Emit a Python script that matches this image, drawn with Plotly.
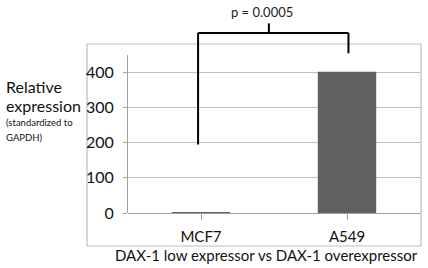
import plotly.graph_objects as go

# ---- data ----
categories = ["MCF7", "A549"]
values = [2, 402]
y_ticks = [0, 100, 200, 300, 400]
y_max = 450
p_label = "p = 0.0005"
bracket_top = 513
bracket_left_end = 195
bracket_right_end = 455
bracket_tick_top = 540
bracket_label_y = 572

x_title = "DAX-1 low expressor vs DAX-1 overexpressor"
y_title_lines = ["Relative", "expression"]
y_sub_lines = ["(standardized to", "GAPDH)"]

W, H = 428, 268
L, R, T, B = 128, 8, 55, 55
PW, PH = W - L - R, H - T - B


def px(x):
    return (x - L) / PW


def py(y):
    return (H - B - y) / PH


def vy(v):
    # data value -> paper fraction (linear y axis from 0 to y_max)
    return v / y_max


FONT = "Lato, 'Open Sans', sans-serif"
fig = go.Figure()
fig.add_trace(go.Bar(
    x=[0, 1], y=values, width=0.4,
    marker=dict(color="#606060", line=dict(width=0)),
    hoverinfo="skip",
))

shapes = []
# chart border
shapes.append(dict(type="rect", xref="paper", yref="paper",
                   x0=px(87), x1=px(421), y0=py(246), y1=py(44),
                   line=dict(color="#bdbdbd", width=1.2), layer="below"))
# bracket
blk = dict(color="black", width=2)
xl, xr, xm = -0.02, 1.01, 0.465
shapes += [
    dict(type="line", xref="x", yref="paper", x0=xl, x1=xl, y0=vy(bracket_left_end), y1=vy(bracket_top), line=blk),
    dict(type="line", xref="x", yref="paper", x0=xr, x1=xr, y0=vy(bracket_right_end), y1=vy(bracket_top), line=blk),
    dict(type="line", xref="x", yref="paper", x0=xl, x1=xr, y0=vy(bracket_top), y1=vy(bracket_top), line=blk),
    dict(type="line", xref="x", yref="paper", x0=xm, x1=xm, y0=vy(bracket_top), y1=vy(bracket_tick_top), line=blk),
]

annotations = [
    dict(text=p_label, xref="x", yref="paper", x=0.42, y=vy(bracket_label_y), showarrow=False,
         font=dict(size=13, color="#222", family=FONT), xanchor="center", yanchor="middle"),
    dict(text=x_title, xref="paper", yref="paper", x=px(266), y=py(255), showarrow=False,
         font=dict(size=15, color="#111", family=FONT), xanchor="center", yanchor="middle"),
    dict(text=y_title_lines[0], xref="paper", yref="paper", x=px(4), y=py(86), showarrow=False,
         font=dict(size=16, color="#111", family=FONT), xanchor="left", yanchor="middle"),
    dict(text=y_title_lines[1], xref="paper", yref="paper", x=px(4), y=py(105), showarrow=False,
         font=dict(size=16, color="#111", family=FONT), xanchor="left", yanchor="middle"),
    dict(text=y_sub_lines[0], xref="paper", yref="paper", x=px(4), y=py(122), showarrow=False,
         font=dict(size=9.5, color="#111", family=FONT), xanchor="left", yanchor="middle"),
    dict(text=y_sub_lines[1], xref="paper", yref="paper", x=px(4), y=py(137), showarrow=False,
         font=dict(size=9.5, color="#111", family=FONT), xanchor="left", yanchor="middle"),
]

fig.update_layout(
    width=W, height=H,
    margin=dict(l=L, r=R, t=T, b=B, pad=0),
    paper_bgcolor="white", plot_bgcolor="white",
    showlegend=False,
    shapes=shapes, annotations=annotations,
    font=dict(family=FONT, size=15, color="#111"),
)
fig.update_xaxes(
    range=[-0.5, 1.5], tickmode="array", tickvals=[0, 1], ticktext=categories,
    showgrid=False, showline=False, zeroline=False,
    ticks="outside", ticklen=6, tickcolor="#a0a0a0", tickson="boundaries",
    tickfont=dict(size=15, family=FONT, color="#111"),
    ticklabelstandoff=4,
)
fig.update_yaxes(
    range=[0, y_max], tickvals=y_ticks,
    showgrid=True, gridcolor="#c0c0c0", gridwidth=1,
    showline=True, linecolor="#a0a0a0", linewidth=1,
    zeroline=True, zerolinecolor="#a0a0a0", zerolinewidth=1,
    ticks="outside", ticklen=4, tickcolor="#a0a0a0",
    tickfont=dict(size=16, family=FONT, color="#111"),
    ticklabelstandoff=6,
)

fig.write_html("out.html")
